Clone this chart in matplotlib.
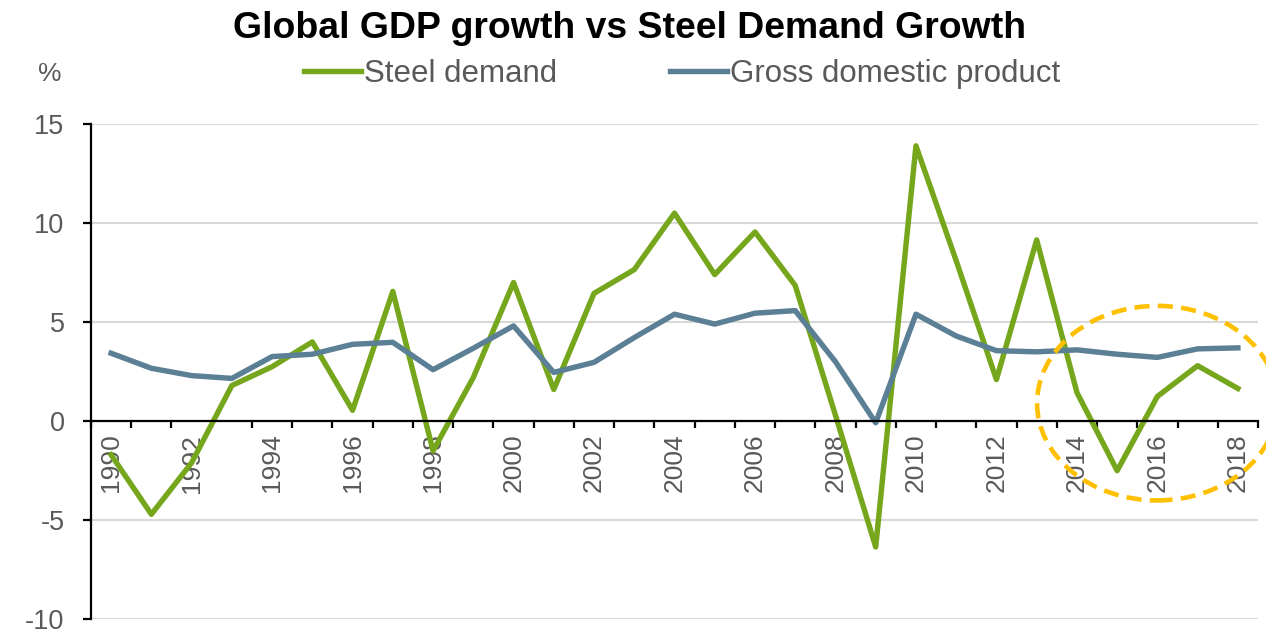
import numpy as np
import matplotlib.pyplot as plt
from matplotlib.patches import Ellipse

# dados
anos = list(range(1990, 2019))
aco = [-1.7, -4.7, -2.1, 1.8, 2.75, 4.0, 0.55, 6.55, -1.5, 2.2, 7.0,
       1.6, 6.45, 7.65, 10.5, 7.4, 9.55, 6.85, 0.3, -6.35, 13.9,
       8.1, 2.1, 9.15, 1.45, -2.5, 1.25, 2.8, 1.65]
pib = [3.43, 2.67, 2.3, 2.16, 3.26, 3.38, 3.88, 3.98, 2.6, 3.68, 4.81,
       2.46, 2.97, 4.22, 5.4, 4.9, 5.45, 5.58, 3.0, -0.08, 5.4,
       4.3, 3.56, 3.5, 3.6, 3.38, 3.22, 3.65, 3.7]
rotulos_y = [-10, -5, 0, 5, 10, 15]

verde = '#76A61B'
azul = '#5B7F95'
cinza = '#595959'

plt.rcParams['font.family'] = ['Liberation Sans', 'DejaVu Sans']

fig = plt.figure(figsize=(12.66, 6.29), dpi=100)
ax = fig.add_axes([91 / 1266, 1 - 619.3 / 629, (1258 - 91) / 1266, (619.3 - 124) / 629])

x = np.arange(len(anos))
ax.plot(x, aco, color=verde, lw=3.9, label='Steel demand')
ax.plot(x, pib, color=azul, lw=3.9, label='Gross domestic product')

# eixos
ax.set_xlim(-0.5, len(anos) - 0.5)
ax.set_ylim(-10, 15)
ax.set_yticks(rotulos_y)
ax.set_yticklabels([str(v) for v in rotulos_y])
ax.yaxis.grid(True, color='#D9D9D9', lw=1.5)
ax.set_axisbelow(True)

ax.spines['top'].set_visible(False)
ax.spines['right'].set_visible(False)
ax.spines['bottom'].set_position(('data', 0))
ax.spines['bottom'].set_linewidth(1.6)
ax.spines['left'].set_linewidth(1.6)
ax.tick_params(axis='y', direction='out', length=6, width=1.6, pad=13,
               labelsize=19.5, labelcolor=cinza)

# ticks entre as categorias, rótulos a cada 2 anos
ax.set_xticks(np.arange(-0.5, len(anos)), minor=False)
ax.set_xticklabels([])
ax.tick_params(axis='x', which='major', direction='out', length=5, width=1.6)
ax.set_xticks(x[::2], minor=True)
ax.set_xticklabels([str(a) for a in anos[::2]], minor=True, rotation=90)
ax.tick_params(axis='x', which='minor', length=0, pad=9, labelsize=19,
               labelcolor=cinza)
for t in ax.xaxis.get_minorticklabels():
    t.set_va('top')

# destaque tracejado
elipse = Ellipse((26, 0.91), 5.98, 9.82, fill=False, ec='#FFC000', lw=3.3,
                 ls=(0, (3.3, 1.8)), clip_on=False, zorder=5)
ax.add_patch(elipse)

# legenda, título e unidade
ax.legend(loc='center left', bbox_to_anchor=(304 / 1266, 1 - 74 / 629),
          bbox_transform=fig.transFigure, ncol=2, frameon=False, fontsize=22.5,
          labelcolor=cinza, handlelength=1.82, handletextpad=0.1,
          columnspacing=3.6, borderpad=0, borderaxespad=0)
fig.text(50 / 1266, 1 - 74 / 629, '%', ha='center', va='center', fontsize=19,
         color=cinza)
fig.text(630 / 1266, 1 - 28 / 629, 'Global GDP growth vs Steel Demand Growth',
         ha='center', va='center', fontsize=26.9, fontweight='bold')

fig.savefig('out.png', dpi=100)
